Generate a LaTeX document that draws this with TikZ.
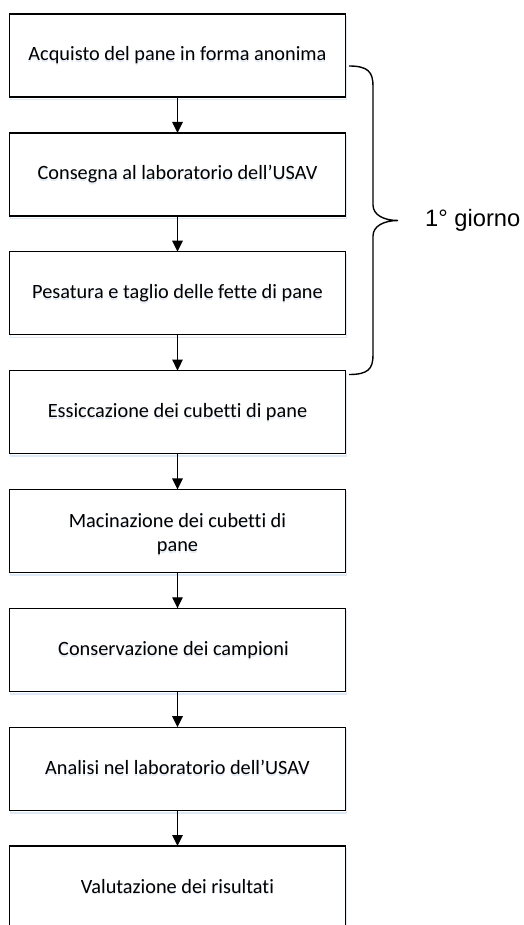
\documentclass[tikz,border=0pt]{standalone}
\usepackage{fontspec}
\setmainfont{Carlito}[Ligatures={NoCommon}]
\newfontfamily\arialfont{Liberation Sans}
\usetikzlibrary{arrows.meta}
\definecolor{shadowblue}{RGB}{222,233,247}
\definecolor{textglow}{RGB}{225,234,246}
\tikzset{
  stepbox/.style={draw=black, line width=1.3pt, fill=white, minimum width=336pt, minimum height=83pt, inner sep=0pt, outer sep=0pt},
  shadowbox/.style={draw=shadowblue, line width=1.6pt, minimum width=336pt, minimum height=83pt, inner sep=0pt},
  steptext/.style={font=\fontsize{20.3}{24}\selectfont, inner sep=0pt, anchor=base},
  glowtext/.style={steptext, text=textglow},
  flow/.style={line width=1.3pt, -{Triangle[length=11pt,width=10.5pt]}},
}
\newcommand{\boxtext}[3]{% name, yoffset (down), text
  \node[glowtext] at ([yshift={-#2pt-1.8pt}]#1.center) {#3};
  \node[steptext] (#1t) at ([yshift=-#2pt]#1.center) {#3};
}
\begin{document}
\begin{tikzpicture}[x=1pt,y=-1pt]
\clip (0,0) rectangle (523,925);
\fill[white] (0,0) rectangle (523,925);
% shadows
\foreach \i in {0,...,7}{
  \node[shadowbox] at (178.5,{14+118.86*\i+41.5+2.6}) {};
}
\node[stepbox] (b1) at (177.5,55.5) {};
\node[stepbox] (b2) at (177.5,174.4) {};
\node[stepbox] (b3) at (177.5,293.2) {};
\node[stepbox] (b4) at (177.5,412.1) {};
\node[stepbox] (b5) at (177.5,530.9) {};
\node[stepbox] (b6) at (177.5,649.8) {};
\node[stepbox] (b7) at (177.5,768.7) {};
\node[stepbox] (b8) at (177.5,887.5) {};
\boxtext{b1}{5.5}{Acquisto del pane in forma anonima}
\boxtext{b2}{5.5}{Consegna al laboratorio dell’USAV}
\boxtext{b3}{5.5}{Pesatura e taglio delle fette di pane}
\boxtext{b4}{5.5}{Essiccazione dei cubetti di pane}
\node[glowtext] at ([yshift=-(-3.8pt)-1.8pt]b5.center) {Macinazione dei cubetti di};
\node[steptext] (b5t1) at ([yshift=3.8pt]b5.center) {Macinazione dei cubetti di};
\node[glowtext] at ([yshift=-20.5pt-1.8pt]b5.center) {pane};
\node[steptext] (b5t2) at ([yshift=-20.5pt]b5.center) {pane};
\node[glowtext] at ([xshift=-4pt,yshift=-7.3pt]b6.center) {Conservazione dei campioni};
\node[steptext] (b6t) at ([xshift=-4pt,yshift=-5.5pt]b6.center) {Conservazione dei campioni};
\boxtext{b7}{5.5}{Analisi nel laboratorio dell’USAV}
\boxtext{b8}{5.5}{Valutazione dei risultati}
% arrows
\foreach \a/\b in {b1/b2,b2/b3,b3/b4,b4/b5,b5/b6,b6/b7,b7/b8}{
  \draw[flow] (\a.south) -- (\b.north);
}
% brace
\coordinate (brtop) at (349,66);
\coordinate (brtip) at (398,220.5);
\coordinate (brbot) at (349,374.5);
\draw[line width=1.4pt] (brtop) .. controls (368,66) and (373,72) .. (373,86)
  -- (373,205) .. controls (373,215) and (384,220.5) .. (brtip)
  .. controls (384,220.5) and (373,226) .. (373,236)
  -- (373,355) .. controls (373,369) and (368,374.5) .. (brbot);
\node[font=\arialfont\fontsize{23.7}{28}\selectfont, inner sep=0pt, anchor=base west] (lbl) at (425,226) {1° giorno};
\end{tikzpicture}
\end{document}
